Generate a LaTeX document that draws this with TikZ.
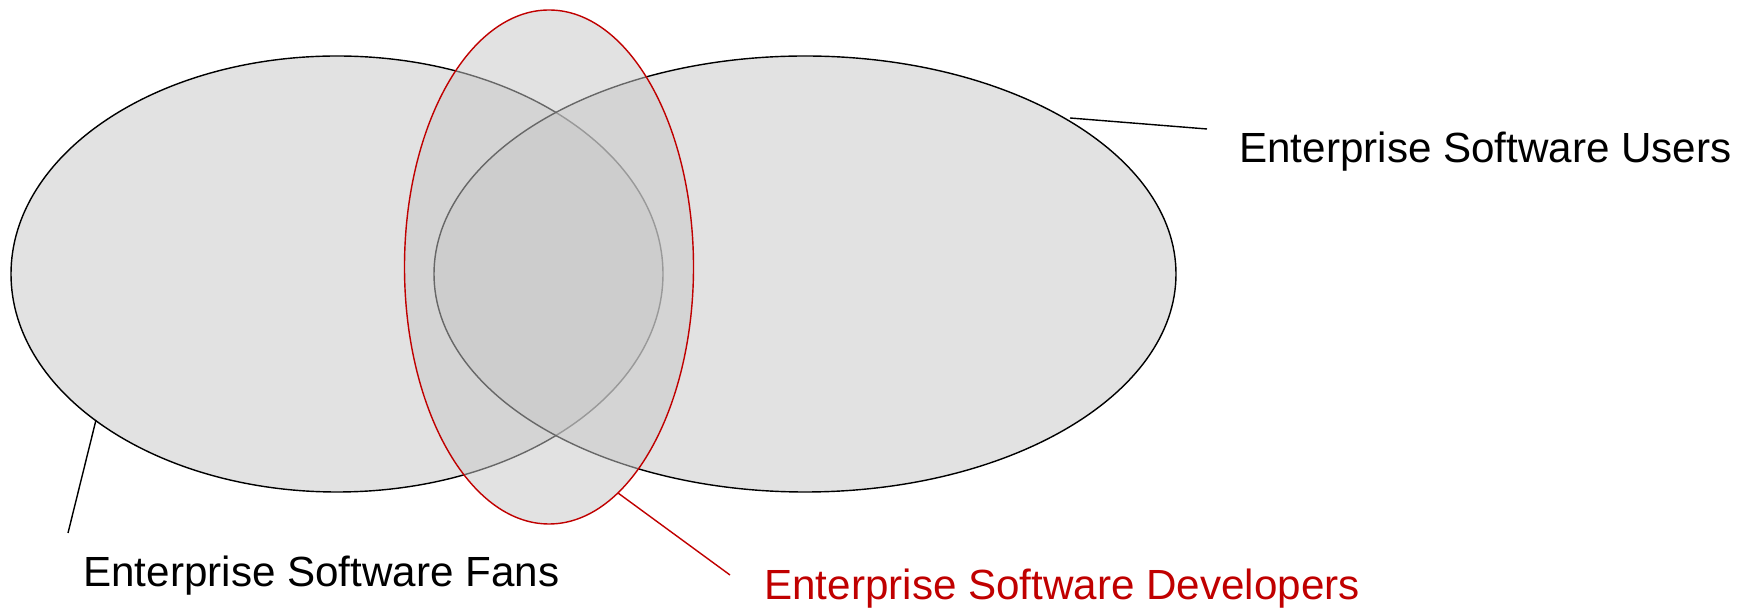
\documentclass[tikz,border=0pt]{standalone}
\usepackage{fontspec}
\setmainfont{Liberation Sans}
\usepackage[]{tikz}
\usepackage[]{xcolor}
\usetikzlibrary{positioning}
\definecolor{vennfill}{HTML}{C7C7C7}
\definecolor{devred}{HTML}{C00000}
\tikzset{venn/.style = {fill=vennfill, fill opacity=0.52, draw opacity=1, line width=0.8pt}}
\tikzset{lbl/.style = {anchor=base west, inner sep=0, font=\fontsize{24}{28}\selectfont}}
\begin{document}
\begin{tikzpicture}
        \useasboundingbox (0,0) rectangle (35.12,12.24);
        \draw [venn,draw=black] (6.74,6.76) ellipse [x radius=6.52, y radius=4.36];
        \draw [venn,draw=black] (16.10,6.76) ellipse [x radius=7.42, y radius=4.36];
        \draw [venn,draw=devred] (10.98,6.90) ellipse [x radius=2.89, y radius=5.14];
        \coordinate (usrA) at (21.40,9.88);
        \coordinate (usrB) at (24.14,9.66);
        \coordinate (fanA) at (1.92,3.84);
        \coordinate (fanB) at (1.36,1.58);
        \coordinate (devA) at (12.36,2.38);
        \coordinate (devB) at (14.60,0.74);
        \node [lbl] (users) at (24.78,8.98) {Enterprise Software Users};
        \node [lbl] (fans) at (1.66,0.50) {Enterprise Software Fans};
        \node [lbl,devred] (devs) at (15.28,0.24) {Enterprise Software Developers};
        \draw [line width=0.8pt] (usrA)--(usrB);
        \draw [line width=0.8pt] (fanA)--(fanB);
        \draw [line width=0.8pt,devred] (devA)--(devB);
    \end{tikzpicture}
\end{document}
